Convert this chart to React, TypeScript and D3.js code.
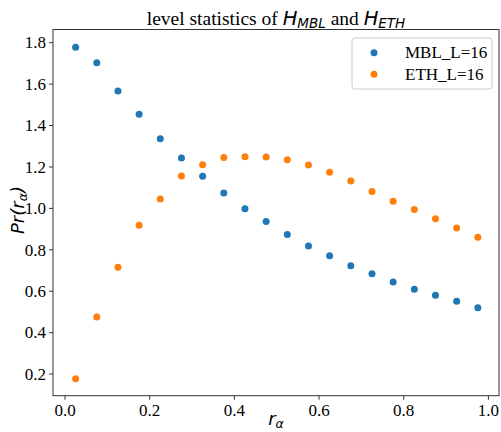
import React from "react";
import * as d3 from "d3";

const rAlpha = [0.025, 0.075, 0.125, 0.175, 0.225, 0.275, 0.325, 0.375, 0.425, 0.475,
  0.525, 0.575, 0.625, 0.675, 0.725, 0.775, 0.825, 0.875, 0.925, 0.975];
const mblValues = [1.778, 1.703, 1.567, 1.454, 1.336, 1.243, 1.155, 1.074, 0.998, 0.937,
  0.874, 0.818, 0.771, 0.723, 0.684, 0.644, 0.609, 0.580, 0.552, 0.520];
const ethValues = [0.177, 0.476, 0.716, 0.918, 1.045, 1.156, 1.211, 1.246, 1.249, 1.248,
  1.235, 1.209, 1.174, 1.132, 1.082, 1.035, 0.995, 0.950, 0.905, 0.861];
const xTicks = [0.0, 0.2, 0.4, 0.6, 0.8, 1.0];
const yTicks = [0.2, 0.4, 0.6, 0.8, 1.0, 1.2, 1.4, 1.6, 1.8];
const seriesNames = ["MBL_L=16", "ETH_L=16"];

const W = 501, H = 432;
const margin = { left: 53, right: 2, top: 29.5, bottom: 36.3 };
const serif = "Liberation Serif";
const sans = "DejaVu Sans";
const blue = "#1f77b4", orange = "#ff7f0e";

export default function App() {
  const x = d3.scaleLinear().domain([-0.0284, 1.025]).range([margin.left, W - margin.right]);
  const y = d3.scaleLinear().domain([0.0955, 1.8638]).range([H - margin.bottom, margin.top]);

  const series = [
    { name: seriesNames[0], color: blue, values: mblValues },
    { name: seriesNames[1], color: orange, values: ethValues },
  ];

  const x0 = margin.left, x1 = W - margin.right;
  const y0 = margin.top, y1 = H - margin.bottom;

  return (
    <svg width={W} height={H} style={{ position: "absolute", left: 0, top: 0 }}>
      <rect width={W} height={H} fill="white" />
      {series.map(s => (
        <g key={s.name}>
          {s.values.map((v, i) => (
            <circle key={i} cx={x(rAlpha[i])} cy={y(v)} r={3.5} fill={s.color} />
          ))}
        </g>
      ))}
      <rect x={x0} y={y0} width={x1 - x0} height={y1 - y0} fill="none" stroke="#333" strokeWidth={1} />
      {xTicks.map(t => (
        <g key={t}>
          <line x1={x(t)} x2={x(t)} y1={y1} y2={y1 + 4} stroke="#333" />
          <text x={x(t)} y={y1 + 20} textAnchor="middle" fontFamily={serif} fontSize={17}>{t.toFixed(1)}</text>
        </g>
      ))}
      {yTicks.map(t => (
        <g key={t}>
          <line x1={x0} x2={x0 - 4} y1={y(t)} y2={y(t)} stroke="#333" />
          <text x={x0 - 7} y={y(t)} dy="0.34em" textAnchor="end" fontFamily={serif} fontSize={17}>{t.toFixed(1)}</text>
        </g>
      ))}
      <text x={(x0 + x1) / 2} y={25} textAnchor="middle" fontSize={19.5}>
        <tspan fontFamily={serif}>level statistics of </tspan>
        <tspan fontFamily={sans} fontStyle="italic">H</tspan>
        <tspan fontFamily={sans} fontStyle="italic" fontSize={13.5} dy={3}>MBL</tspan>
        <tspan fontFamily={serif} dy={-3}> and </tspan>
        <tspan fontFamily={sans} fontStyle="italic">H</tspan>
        <tspan fontFamily={sans} fontStyle="italic" fontSize={13.5} dy={3}>ETH</tspan>
      </text>
      <text x={(x0 + x1) / 2} y={425} textAnchor="middle" fontFamily={sans} fontStyle="italic" fontSize={18}>
        <tspan>r</tspan>
        <tspan fontSize={12.5} dy={2.5}>α</tspan>
      </text>
      <text transform={`translate(24,210) rotate(-90)`} textAnchor="middle" fontFamily={sans} fontStyle="italic" fontSize={18}>
        <tspan>Pr(r</tspan>
        <tspan fontSize={12.5} dy={3}>α</tspan>
        <tspan dy={-3}>)</tspan>
      </text>
      <rect x={352} y={38} width={140} height={51} rx={3} fill="white" stroke="#ccc" strokeWidth={1} />
      {series.map((s, i) => (
        <g key={s.name}>
          <circle cx={374} cy={52.7 + i * 21.6} r={3.5} fill={s.color} />
          <text x={405} y={52.7 + i * 21.6} dy="0.34em" fontFamily={serif} fontSize={17}>{s.name}</text>
        </g>
      ))}
    </svg>
  );
}
